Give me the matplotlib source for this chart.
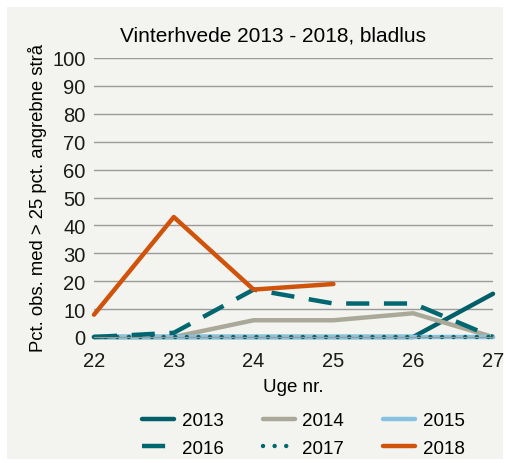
import matplotlib
matplotlib.use("Agg")
import matplotlib.pyplot as plt
from matplotlib.patches import Rectangle

plt.rcParams['font.family'] = ['Liberation Sans', 'DejaVu Sans']

# data
weeks = [22, 23, 24, 25, 26, 27]
y2013 = [0, 0, 0, 0, 0, 15.5]
y2014 = [0, 0, 6, 6, 8.5, 0]
y2015 = [0, 0, 0, 0, 0, 0]
y2016 = [0, 1.5, 17, 12, 12, 0]
y2017 = [0, 0, 0, 0, 0, 0]
weeks18 = [22, 23, 24, 25]
y2018 = [8, 43, 17, 19]

teal = '#005f68'
bg = '#f3f3ef'

fig = plt.figure(figsize=(5.10, 4.64), dpi=100)
fig.patches.append(Rectangle((7/510, 4/464), 496/510, 452/464, transform=fig.transFigure,
                             facecolor=bg, edgecolor='none', zorder=-1))

ax = fig.add_axes([94/510, 1-338/464, 399/510, 279/464])
ax.patch.set_alpha(0)

lw = 3.2
l13, = ax.plot(weeks, y2013, color=teal, lw=lw, solid_capstyle='round', label='2013')
l14, = ax.plot(weeks, y2014, color='#aaa999', lw=lw, solid_capstyle='round', label='2014')
l15, = ax.plot(weeks, y2015, color='#86c3e2', lw=lw, solid_capstyle='round', label='2015')
l16, = ax.plot(weeks, y2016, color='#00666f', lw=lw, dashes=(5.2, 3.3), label='2016')
l17, = ax.plot(weeks, y2017, color='#00666f', lw=lw, dashes=(0.01, 2.6), dash_capstyle='round', label='2017')
l18, = ax.plot(weeks18, y2018, color='#d0530c', lw=lw, solid_capstyle='round', label='2018')
for l in [l13, l14, l15, l16, l17, l18]:
    l.set_clip_on(False)

ax.set_xlim(22, 27)
ax.set_ylim(0, 100)
ax.set_yticks(range(0, 101, 10))
ax.set_xticks(weeks)
ax.yaxis.grid(True, color='#9a9a9a', lw=1)
ax.set_axisbelow(True)
for s in ['top', 'right', 'left']:
    ax.spines[s].set_visible(False)
ax.spines['bottom'].set_color('#9a9a9a')
ax.tick_params(axis='both', length=0, labelsize=14.5, colors='#1a1a1a')
ax.tick_params(axis='x', pad=10)
ax.tick_params(axis='y', pad=6)

ax.set_xlabel('Uge nr.', fontsize=13.5, labelpad=6)
ax.set_ylabel('Pct. obs. med > 25 pct. angrebne strå', fontsize=13.3, labelpad=4)
fig.text(0.535, 0.922, 'Vinterhvede 2013 - 2018, bladlus', ha='center', va='center', fontsize=15)

handles = [l13, l16, l14, l17, l15, l18]
fig.legend(handles, [h.get_label() for h in handles], ncol=3, loc='center',
           bbox_to_anchor=(0.595, 0.062), frameon=False, fontsize=13.5,
           handlelength=1.7, columnspacing=2.1, labelspacing=0.55, handletextpad=0.4)

fig.savefig('out.png', dpi=100, facecolor='white')
